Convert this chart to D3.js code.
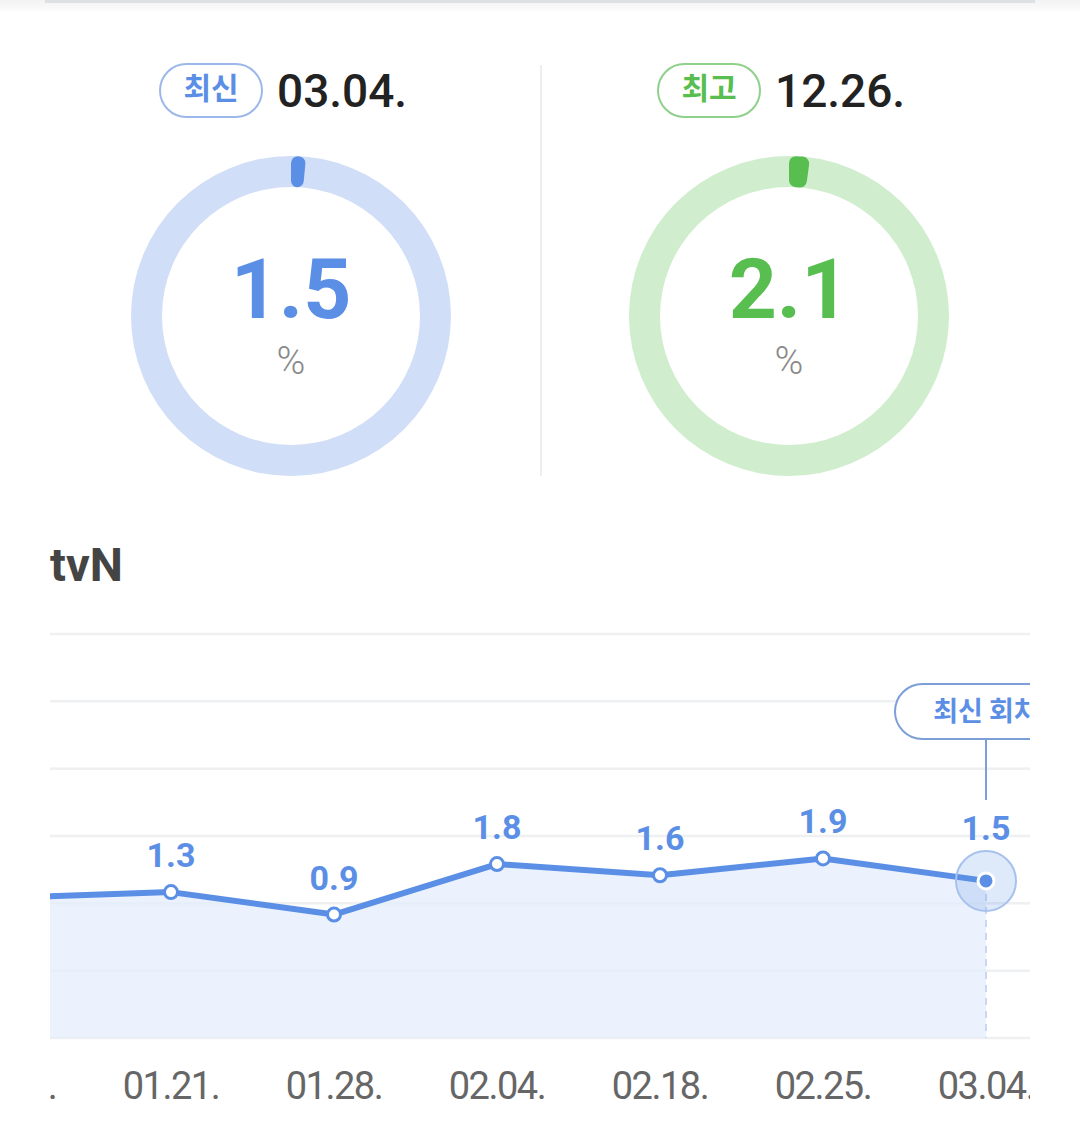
<!DOCTYPE html>
<html>
<head>
<meta charset="utf-8">
<script src="https://cdn.jsdelivr.net/npm/d3@7"></script>
<style>
  html, body { margin: 0; padding: 0; background: #fff; }
  svg { display: block; font-family: Roboto, "Noto Sans CJK KR", sans-serif; }
</style>
</head>
<body>
<div id="chart"></div>
<script>
// summary cards
const cardLabels = ["최신", "최고"];
const cardDates = ["03.04.", "12.26."];
const cardValues = [1.5, 2.1];

// tvN weekly ratings
const channel = "tvN";
const dates = ["01.14.", "01.21.", "01.28.", "02.04.", "02.18.", "02.25.", "03.04."];
const ratings = [1.2, 1.3, 0.9, 1.8, 1.6, 1.9, 1.5];
const latestLabel = "최신 회차";

const width = 1080;
const height = 1144;

const blue = "#5b8fe6";
const green = "#57be4f";
const palettes = [
  { main: blue, ring: "#d1def7", pill: "#9cb8ea" },
  { main: green, ring: "#d0eecd", pill: "#8fd08a" }
];

const svg = d3.select("#chart")
  .append("svg")
  .attr("width", width)
  .attr("height", height);

const defs = svg.append("defs");

// top header shadow
const shadow = defs.append("linearGradient")
  .attr("id", "shadow")
  .attr("x1", 0).attr("y1", 0).attr("x2", 0).attr("y2", 1);
shadow.append("stop").attr("offset", "0%").attr("stop-color", "#000").attr("stop-opacity", 0.05);
shadow.append("stop").attr("offset", "100%").attr("stop-color", "#000").attr("stop-opacity", 0);

svg.append("rect")
  .attr("x", 0).attr("y", 0)
  .attr("width", width).attr("height", 14)
  .attr("fill", "url(#shadow)");

svg.append("rect")
  .attr("x", 45).attr("y", 0)
  .attr("width", 990).attr("height", 3)
  .attr("fill", "#dde1e3");

// --- donut cards ---
const cardX = d3.scalePoint().domain([0, 1]).range([291, 789]);
const ringArc = d3.arc().innerRadius(129).outerRadius(160);
const valueArc = d3.arc().innerRadius(129).outerRadius(160).cornerRadius(7);
const pct = d3.scaleLinear().domain([0, 100]).range([0, 2 * Math.PI]);

svg.append("line")
  .attr("x1", 541).attr("x2", 541)
  .attr("y1", 65).attr("y2", 476)
  .attr("stroke", "#eeeeee")
  .attr("stroke-width", 2);

const cards = svg.selectAll("g.card")
  .data(cardValues)
  .enter()
  .append("g")
  .attr("class", "card")
  .attr("transform", (d, i) => `translate(${cardX(i)},0)`);

cards.append("rect")
  .attr("x", -131).attr("y", 64)
  .attr("width", 102).attr("height", 53)
  .attr("rx", 26.5)
  .attr("fill", "#fff")
  .attr("stroke", (d, i) => palettes[i].pill)
  .attr("stroke-width", 2);

cards.append("text")
  .attr("x", -80).attr("y", 99)
  .attr("text-anchor", "middle")
  .style("font-family", "'Noto Sans CJK KR', sans-serif")
  .style("font-size", "30px")
  .style("font-weight", 700)
  .attr("fill", (d, i) => palettes[i].main)
  .text((d, i) => cardLabels[i]);

cards.append("text")
  .attr("x", -14).attr("y", 107)
  .style("font-size", "46px")
  .style("font-weight", 500)
  .attr("fill", "#222")
  .text((d, i) => cardDates[i]);

const donut = cards.append("g").attr("transform", "translate(0,316)");

donut.append("path")
  .attr("d", ringArc({ startAngle: 0, endAngle: 2 * Math.PI }))
  .attr("fill", (d, i) => palettes[i].ring);

donut.append("path")
  .attr("d", d => valueArc({ startAngle: 0, endAngle: pct(d) }))
  .attr("fill", (d, i) => palettes[i].main);

donut.append("text")
  .attr("x", 0).attr("y", 2)
  .attr("text-anchor", "middle")
  .style("font-size", "84px")
  .style("font-weight", 700)
  .attr("fill", (d, i) => palettes[i].main)
  .text(d => d.toFixed(1));

donut.append("text")
  .attr("x", 0).attr("y", 58)
  .attr("text-anchor", "middle")
  .style("font-size", "39px")
  .style("font-weight", 300)
  .attr("fill", "#8a8a8a")
  .text("%");

// --- line chart ---
svg.append("text")
  .attr("x", 50).attr("y", 581)
  .style("font-size", "47px")
  .style("font-weight", 700)
  .attr("fill", "#444")
  .text(channel);

const plot = { left: 50, right: 1030, top: 634, bottom: 1038 };

defs.append("clipPath")
  .attr("id", "clip")
  .append("rect")
  .attr("x", plot.left).attr("y", 600)
  .attr("width", plot.right - plot.left).attr("height", height - 600);

const x = d3.scaleLinear().domain([0, dates.length - 1]).range([8, 8 + 163 * (dates.length - 1)]);
const y = d3.scaleLinear().domain([-1.3, 5.9]).range([plot.bottom, plot.top]);

const grid = svg.append("g");
grid.selectAll("line")
  .data(d3.range(7).map(i => -1.3 + i * 1.2))
  .enter()
  .append("line")
  .attr("x1", plot.left).attr("x2", plot.right)
  .attr("y1", d => y(d)).attr("y2", d => y(d))
  .attr("stroke", "#eef0f2")
  .attr("stroke-width", 2.5);

const g = svg.append("g").attr("clip-path", "url(#clip)");

const area = d3.area()
  .x((d, i) => x(i))
  .y0(plot.bottom)
  .y1(d => y(d));

g.append("path")
  .datum(ratings)
  .attr("d", area)
  .attr("fill", "#e2ecfc")
  .attr("fill-opacity", 0.7);

const last = ratings.length - 1;

g.append("line")
  .attr("x1", x(last)).attr("x2", x(last))
  .attr("y1", y(ratings[last])).attr("y2", plot.bottom)
  .attr("stroke", "#c8d8f4")
  .attr("stroke-width", 2)
  .attr("stroke-dasharray", "7,6");

const line = d3.line()
  .x((d, i) => x(i))
  .y(d => y(d));

g.append("path")
  .datum(ratings)
  .attr("d", line)
  .attr("fill", "none")
  .attr("stroke", blue)
  .attr("stroke-width", 6)
  .attr("stroke-linejoin", "round");

g.selectAll("circle.pt")
  .data(ratings.slice(0, last))
  .enter()
  .append("circle")
  .attr("class", "pt")
  .attr("cx", (d, i) => x(i))
  .attr("cy", d => y(d))
  .attr("r", 6.5)
  .attr("fill", "#fff")
  .attr("stroke", blue)
  .attr("stroke-width", 3);

// latest point highlight
g.append("circle")
  .attr("cx", x(last)).attr("cy", y(ratings[last]))
  .attr("r", 30)
  .attr("fill", blue)
  .attr("fill-opacity", 0.2)
  .attr("stroke", "#a7c1ef")
  .attr("stroke-width", 2);

g.append("circle")
  .attr("cx", x(last)).attr("cy", y(ratings[last]))
  .attr("r", 8)
  .attr("fill", blue)
  .attr("stroke", "#fff")
  .attr("stroke-width", 3);

g.selectAll("text.val")
  .data(ratings)
  .enter()
  .append("text")
  .attr("class", "val")
  .attr("x", (d, i) => x(i))
  .attr("y", (d, i) => y(d) - (i === last ? 41 : 25))
  .attr("text-anchor", "middle")
  .style("font-size", "34px")
  .style("font-weight", 700)
  .attr("fill", blue)
  .text(d => d.toFixed(1));

// latest badge
g.append("line")
  .attr("x1", x(last)).attr("x2", x(last))
  .attr("y1", 739).attr("y2", 800)
  .attr("stroke", "#7d9fd8")
  .attr("stroke-width", 2);

g.append("rect")
  .attr("x", x(last) - 91).attr("y", 684)
  .attr("width", 182).attr("height", 55)
  .attr("rx", 27.5)
  .attr("fill", "#fff")
  .attr("stroke", "#7d9fd8")
  .attr("stroke-width", 2);

g.append("text")
  .attr("x", x(last)).attr("y", 721)
  .attr("text-anchor", "middle")
  .style("font-family", "'Noto Sans CJK KR', sans-serif")
  .style("font-size", "27px")
  .style("font-weight", 700)
  .attr("fill", blue)
  .text(latestLabel);

// x axis labels
g.selectAll("text.date")
  .data(dates)
  .enter()
  .append("text")
  .attr("class", "date")
  .attr("x", (d, i) => x(i))
  .attr("y", 1099)
  .attr("text-anchor", "middle")
  .style("font-size", "38px")
  .style("letter-spacing", "-1.5px")
  .attr("fill", "#666")
  .text(d => d);
</script>
</body>
</html>
